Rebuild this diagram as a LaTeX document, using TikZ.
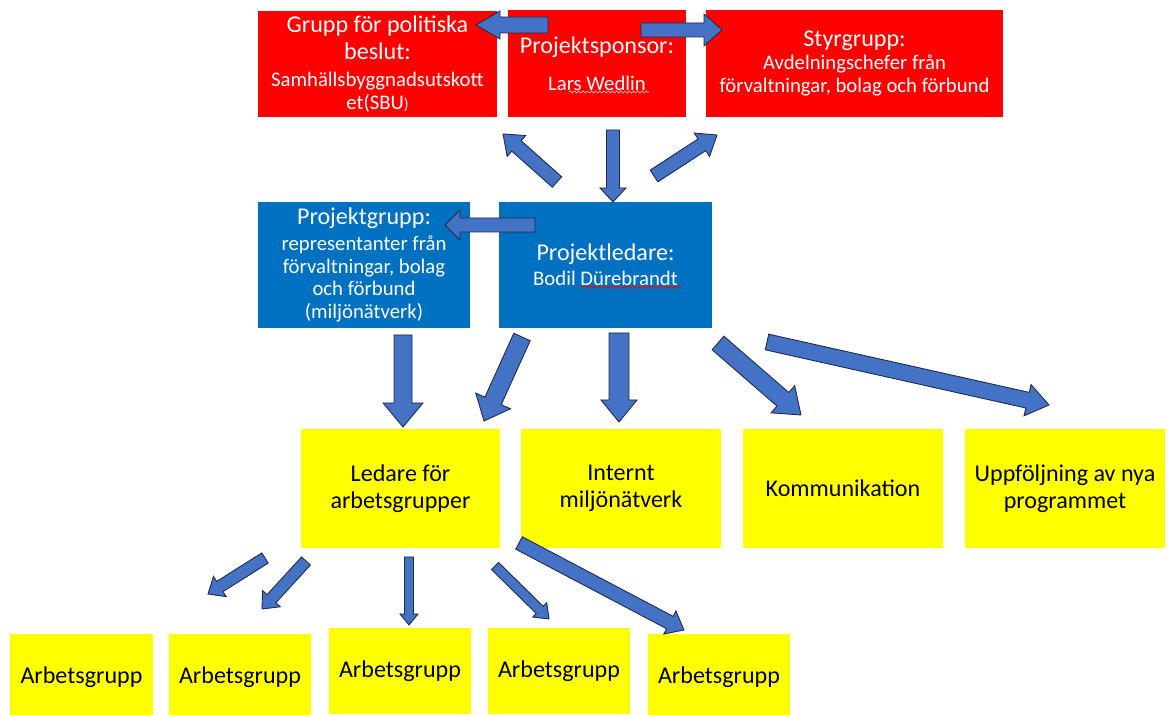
\documentclass[tikz,border=0pt]{standalone}
\usepackage{fontspec}
\setmainfont{Carlito}
\usetikzlibrary{calc,decorations.pathmorphing}
\definecolor{boxred}{HTML}{FF0000}
\definecolor{boxblue}{HTML}{0070C0}
\definecolor{boxyellow}{HTML}{FFFF00}
\definecolor{arrowblue}{HTML}{4472C4}
\definecolor{arrowline}{HTML}{1F2A4A}
\definecolor{markpink}{HTML}{FFB8B8}
\newcommand\headfont{\fontsize{13.7}{14.7}\selectfont}
\newcommand\subfont{\fontsize{11.8}{13}\selectfont}
% block arrow: from, to, shaft half width, head half width, head length (in px)
\newcommand\blockarrow[5]{%
  \coordinate (bahead) at ($(#2)!#5*0.02cm!(#1)$);
  \draw[barrow] ($(#1)!#3*0.02cm!90:(#2)$) -- ($(bahead)!#3*0.02cm!90:(#2)$)
    -- ($(bahead)!#4*0.02cm!90:(#2)$) -- (#2) -- ($(bahead)!#4*0.02cm!-90:(#2)$)
    -- ($(bahead)!#3*0.02cm!-90:(#2)$) -- ($(#1)!#3*0.02cm!-90:(#2)$) -- cycle;}
\tikzset{
  box/.style={inner sep=0pt, align=center, font=\headfont},
  redbox/.style={box, fill=boxred, text=white, minimum height=2.14cm},
  bluebox/.style={box, fill=boxblue, text=white, minimum height=2.52cm},
  yellowbox/.style={box, fill=boxyellow, text=black, minimum width=4cm, minimum height=2.38cm},
  groupbox/.style={box, fill=boxyellow, text=black, minimum width=2.86cm, minimum height=1.72cm},
  barrow/.style={fill=arrowblue, draw=arrowline, line width=0.5pt, line join=miter},
  squiggle/.style={line width=0.4pt, decorate, decoration={snake, amplitude=0.6pt, segment length=2.4pt}}
}
\begin{document}
\begin{tikzpicture}[x=0.02cm, y=-0.02cm]
  %%%%% START %%%%%
  \useasboundingbox (0,0) rectangle (1170,715);
  \begin{scope}
  \clip (0,0) rectangle (1170,715);

  % top row
  \node[redbox, minimum width=4.78cm] (politik) at (377.5,64)
    {Grupp för politiska\\[0.6pt]beslut:\\[0.6pt]{\subfont Samhällsbyggnadsutskott}\\[-1.7pt]{\subfont et(SBU{\fontsize{9}{9}\selectfont)}}};
  \node[redbox, minimum width=3.56cm] (sponsor) at (597,63.5)
    {Projektsponsor:\\[6.5pt]{\subfont Lars Wedlin}};
  \node[redbox, minimum width=5.94cm] (styr) at (854.5,63.5)
    {Styrgrupp:\\[-1.7pt]{\subfont Avdelningschefer från}\\[-1.7pt]{\subfont förvaltningar, bolag och förbund}};

  % middle row
  \node[bluebox, minimum width=4.24cm] (projgrupp) at (364,265)
    {Projektgrupp:\\[0pt]{\subfont representanter från}\\[-1.7pt]{\subfont förvaltningar, bolag}\\[-1.7pt]{\subfont och förbund}\\[-1.7pt]{\subfont (miljönätverk)}};
  \node[bluebox, minimum width=4.26cm] (ledare) at (605.5,265)
    {Projektledare:\\[-0.5pt]{\subfont Bodil Dürebrandt}};

  % yellow row
  \node[yellowbox] (arbledare) at (400.5,488.5) {Ledare för\\[0.6pt]arbetsgrupper};
  \node[yellowbox] (internt) at (621,488.5) {Internt\\[0.6pt]miljönätverk};
  \node[yellowbox] (komm) at (843,488.5) {Kommunikation};
  \node[yellowbox] (uppf) at (1065,488.5) {Uppföljning av nya\\[0.6pt]programmet};

  % working groups
  \node[groupbox] (ag1) at (81.5,677) {Arbetsgrupp};
  \node[groupbox] (ag2) at (240,677) {Arbetsgrupp};
  \node[groupbox] (ag3) at (400,671) {Arbetsgrupp};
  \node[groupbox] (ag4) at (559,671) {Arbetsgrupp};
  \node[groupbox] (ag5) at (719,677) {Arbetsgrupp};

  % spelling marks
  \draw[squiggle, markpink] (569,92) -- (649,92);
  \draw[squiggle, red] (581,287) -- (681,287);

  % arrow ends
  \coordinate (t1a) at (548,25);  \coordinate (t1b) at (476,25);
  \coordinate (t2a) at (641,30);  \coordinate (t2b) at (722,30);
  \coordinate (m1a) at (557,182); \coordinate (m1b) at (503,134);
  \coordinate (m2a) at (613,130); \coordinate (m2b) at (613,202);
  \coordinate (m3a) at (654,176); \coordinate (m3b) at (717,135);
  \coordinate (m4a) at (535,225); \coordinate (m4b) at (445,225);
  \coordinate (l1a) at (403,335); \coordinate (l1b) at (403,427);
  \coordinate (l2a) at (522,337); \coordinate (l2b) at (484,421);
  \coordinate (l3a) at (619,333); \coordinate (l3b) at (619,422);
  \coordinate (l4a) at (718,343); \coordinate (l4b) at (801,415);
  \coordinate (l5a) at (767,342); \coordinate (l5b) at (1049,405);
  \coordinate (g1a) at (265,558); \coordinate (g1b) at (208,594);
  \coordinate (g2a) at (306,561); \coordinate (g2b) at (262,609);
  \coordinate (g3a) at (409,557); \coordinate (g3b) at (409,625);
  \coordinate (g4a) at (495,566); \coordinate (g4b) at (549,619);
  \coordinate (g5a) at (519,543); \coordinate (g5b) at (684,630);

  \blockarrow{t1a}{t1b}{8}{14}{24}
  \blockarrow{t2a}{t2b}{7}{16}{18}
  \blockarrow{m1a}{m1b}{7}{14}{18}
  \blockarrow{m2a}{m2b}{6.5}{13}{14}
  \blockarrow{m3a}{m3b}{7}{14}{18}
  \blockarrow{m4a}{m4b}{7}{15}{15}
  \blockarrow{l1a}{l1b}{9}{20}{24}
  \blockarrow{l2a}{l2b}{9}{19}{22}
  \blockarrow{l3a}{l3b}{10}{18}{22}
  \blockarrow{l4a}{l4b}{9}{18}{24}
  \blockarrow{l5a}{l5b}{8}{16}{22}
  \blockarrow{g1a}{g1b}{6}{12}{14}
  \blockarrow{g2a}{g2b}{6}{12}{14}
  \blockarrow{g3a}{g3b}{4.5}{9}{11}
  \blockarrow{g4a}{g4b}{5}{10}{13}
  \blockarrow{g5a}{g5b}{7}{13}{16}
  \end{scope}
  %%%%% END %%%%%
\end{tikzpicture}
\end{document}
